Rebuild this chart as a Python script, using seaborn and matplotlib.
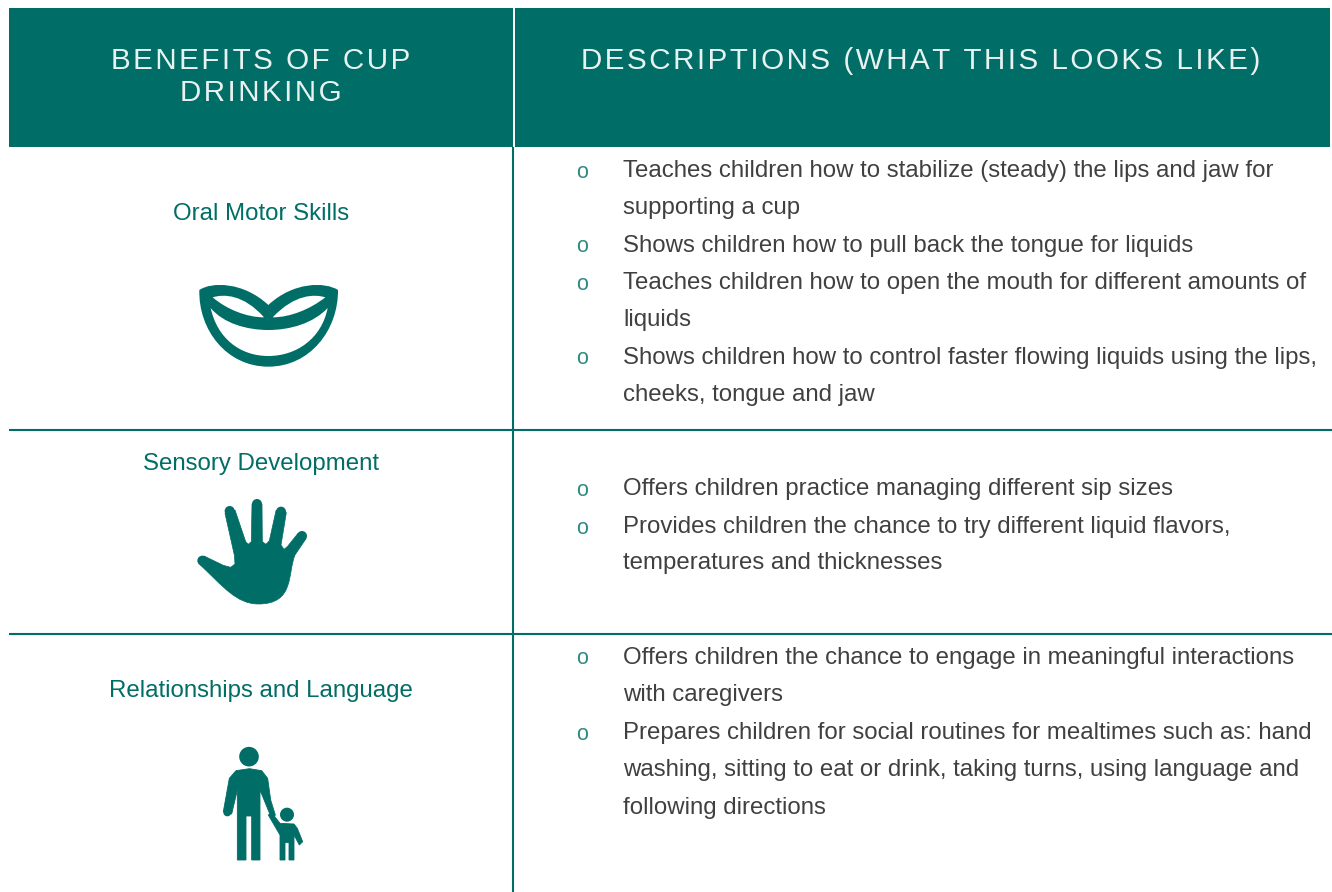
import matplotlib
matplotlib.use('Agg')
import matplotlib.pyplot as plt
from matplotlib.patches import Rectangle, PathPatch, Circle, Polygon
from matplotlib.path import Path
import seaborn as sns

sns.set_theme(style='white')
plt.rcParams['font.family'] = ['Liberation Sans', 'DejaVu Sans']

TEAL = '#006e66'
GREY = '#404040'

headers = ['BENEFITS OF CUP\nDRINKING', 'DESCRIPTIONS (WHAT THIS LOOKS LIKE)']
benefits = ['Oral Motor Skills', 'Sensory Development', 'Relationships and Language']
benefit_y = [212, 462, 689]
row_lines = [430, 634]

# (text, baseline y, starts a bullet)
desc_lines = [
    ('Teaches children how to stabilize (steady) the lips and jaw for', 177, True),
    ('supporting a cup', 214, False),
    ('Shows children how to pull back the tongue for liquids', 252, True),
    ('Teaches children how to open the mouth for different amounts of', 289, True),
    ('liquids', 326, False),
    ('Shows children how to control faster flowing liquids using the lips,', 364, True),
    ('cheeks, tongue and jaw', 401, False),
    ('Offers children practice managing different sip sizes', 495, True),
    ('Provides children the chance to try different liquid flavors,', 533, True),
    ('temperatures and thicknesses', 569, False),
    ('Offers children the chance to engage in meaningful interactions', 664, True),
    ('with caregivers', 701, False),
    ('Prepares children for social routines for mealtimes such as: hand', 739, True),
    ('washing, sitting to eat or drink, taking turns, using language and', 776, False),
    ('following directions', 814, False),
]


def spaced(s):
    # letter spacing, matplotlib has no option for it
    return '\n'.join('\u200a'.join(line) for line in s.split('\n'))


def zoomed(pts, ox, oy):
    return [(ox + x / 3, oy + y / 3) for x, y in pts]


def curve(start, segs, ox, oy, fc):
    # every seg is three cubic bezier points
    verts = [start]
    codes = [Path.MOVETO]
    for seg in segs:
        verts += seg
        codes += [Path.CURVE4] * 3
    verts.append(start)
    codes.append(Path.CLOSEPOLY)
    return PathPatch(Path(zoomed(verts, ox, oy), codes), lw=0, fc=fc)


def draw_lips(ax):
    ox, oy = 180, 270
    ax.add_patch(curve((58, 60), [
        [(95, 35), (190, 35), (265, 105)],
        [(340, 35), (435, 35), (474, 60)],
        [(475, 180), (390, 290), (265, 290)],
        [(140, 290), (55, 180), (58, 60)]], ox, oy, TEAL))
    ax.add_patch(curve((98, 82), [
        [(130, 72), (190, 72), (252, 142)],
        [(200, 142), (140, 118), (98, 82)]], ox, oy, 'white'))
    ax.add_patch(curve((436, 82), [
        [(404, 72), (344, 72), (278, 142)],
        [(330, 142), (390, 118), (436, 82)]], ox, oy, 'white'))
    ax.add_patch(curve((92, 114), [
        [(130, 160), (200, 180), (265, 180)],
        [(330, 180), (400, 160), (443, 114)],
        [(425, 205), (350, 258), (265, 258)],
        [(180, 258), (112, 205), (92, 114)]], ox, oy, 'white'))


def draw_hand(ax):
    ox, oy = 180, 490
    outline = [(60, 224), (72, 198), (130, 226), (152, 232), (165, 222), (163, 195),
               (135, 70), (165, 60), (197, 155), (205, 163), (214, 155), (216, 42),
               (246, 42), (247, 155), (258, 163), (268, 152), (288, 62), (319, 68),
               (303, 165), (312, 178), (322, 170), (354, 130), (378, 146), (345, 195)]
    palm = [(322, 250), (345, 342), (235, 342), (170, 342), (130, 290), (60, 224)]
    codes = [Path.MOVETO] + [Path.LINETO] * (len(outline) - 1) + [Path.CURVE4] * 6
    ax.add_patch(PathPatch(Path(zoomed(outline + palm, ox, oy), codes),
                           fc=TEAL, ec=TEAL, lw=0.5, joinstyle='round'))
    for x, y in [(67, 212), (149, 63), (231, 42), (303, 65), (366, 138)]:
        ax.add_patch(Circle((ox + x / 3, oy + y / 3), 5, fc=TEAL, lw=0))


def draw_people(ax):
    ox, oy = 200, 740
    ax.add_patch(Circle((ox + 147 / 3, oy + 50 / 3), 9.8, fc=TEAL, lw=0))
    ax.add_patch(Circle((ox + 261 / 3, oy + 224 / 3), 7, fc=TEAL, lw=0))
    ax.add_patch(Circle((ox + 82 / 3, oy + 217 / 3), 4, fc=TEAL, lw=0))
    adult = [(148, 86), (185, 92), (203, 115), (212, 180), (226, 225), (216, 238),
             (180, 150), (180, 360), (155, 360), (155, 228), (138, 228), (138, 360),
             (112, 360), (112, 150), (95, 222), (70, 215), (88, 115), (108, 92)]
    child = [(240, 250), (282, 252), (292, 265), (308, 305), (298, 315), (282, 285),
             (282, 360), (267, 360), (267, 308), (255, 308), (255, 360), (240, 360),
             (240, 285), (205, 225), (215, 218)]
    ax.add_patch(Polygon(zoomed(adult, ox, oy), fc=TEAL, ec=TEAL, lw=0.6))
    ax.add_patch(Polygon(zoomed(child, ox, oy), fc=TEAL, ec=TEAL, lw=0.6))


fig = plt.figure(figsize=(13.32, 8.92), dpi=100)
ax = fig.add_axes([0, 0, 1, 1])
ax.set_xlim(0, 1332)
ax.set_ylim(892, 0)
ax.axis('off')
sns.despine(ax=ax, left=True, bottom=True)

# header band
ax.add_patch(Rectangle((9, 8), 1321, 139, fc=TEAL, lw=0))
ax.vlines(514, 8, 147, color='white', lw=1.4)
ax.text(261, 77, spaced(headers[0]), color='#e8f2f1', fontsize=21.3, ha='center', va='center',
        linespacing=1.15)
ax.text(921, 61, spaced(headers[1]), color='#e8f2f1', fontsize=21.3, ha='center', va='center')

# grid
ax.vlines(513, 147, 892, color=TEAL, lw=1.5)
ax.hlines(row_lines, 9, 1332, color=TEAL, lw=1.5)

for label, y in zip(benefits, benefit_y):
    ax.text(261, y + 2, label, color=TEAL, fontsize=17.25, ha='center', va='center')

for line, y, bullet in desc_lines:
    ax.text(623, y, line, color=GREY, fontsize=17.3, va='baseline')
    if bullet:
        ax.text(582.5, y + 0.5, 'o', color='#2f8a83', fontsize=15.5, ha='center', va='baseline')

draw_lips(ax)
draw_hand(ax)
draw_people(ax)

fig.savefig('out.png', dpi=100)
